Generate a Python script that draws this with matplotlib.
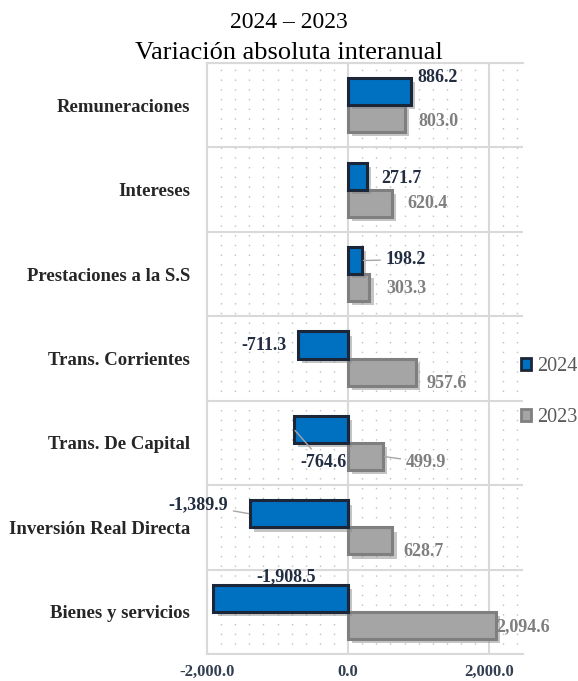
import numpy as np
import matplotlib
matplotlib.use("Agg")
import matplotlib.pyplot as plt
import matplotlib.patheffects as pe
from matplotlib.patches import Patch

plt.rcParams['font.family'] = ['Liberation Serif', 'DejaVu Serif']

# data
categories = ['Remuneraciones', 'Intereses', 'Prestaciones a la S.S',
              'Trans. Corrientes', 'Trans. De Capital',
              'Inversión Real Directa', 'Bienes y servicios']
v2024 = [886.2, 271.7, 198.2, -711.3, -764.6, -1389.9, -1908.5]
v2023 = [803.0, 620.4, 303.3, 957.6, 499.9, 628.7, 2094.6]
xticks = [-2000, 0, 2000]

# label offsets from the bar end (pixels) and whether a leader line is drawn
off_2024 = [(27, 14), (34, -2), (44, 1), (-34, -1), (29, -33), (-52, 9), (73, 22)]
lead_2024 = [False, False, True, False, True, True, False]
off_2023 = [(34, -3), (36, 0), (37, -1), (31, -11), (43, -6), (31, -11), (27, -1)]
lead_2023 = [False, False, False, False, True, False, False]

blue, blue_edge = '#0070C0', '#1B2638'
gray, gray_edge = '#A5A5A5', '#7F7F7F'
lab_dark, lab_gray = '#222D42', '#7F7F7F'

fig = plt.figure(figsize=(5.78, 6.81), dpi=100)
ax = fig.add_axes([207/578, 27/681, (523-207)/578, (654-63)/681])

y = np.arange(len(categories))
h = 0.32
shadow = [pe.SimplePatchShadow(offset=(3, -3), shadow_rgbFace='#808080', alpha=0.45), pe.Normal()]

b1 = ax.barh(y - h/2, v2024, height=h, color=blue, edgecolor=blue_edge, linewidth=2.2, zorder=3)
b2 = ax.barh(y + h/2, v2023, height=h, color=gray, edgecolor=gray_edge, linewidth=2.2, zorder=2)
for b in list(b1) + list(b2):
    b.set_path_effects(shadow)

for i in range(len(categories)):
    ap = dict(arrowstyle='-', color='#A6A6A6', lw=1, shrinkA=2, shrinkB=1) if lead_2024[i] else None
    ax.annotate(f'{v2024[i]:,.1f}', xy=(v2024[i], y[i] - h/2), xytext=off_2024[i],
                textcoords='offset pixels', ha='center', va='center',
                fontsize=13, fontweight='bold', color=lab_dark, arrowprops=ap, zorder=5)
    ap = dict(arrowstyle='-', color='#A6A6A6', lw=1, shrinkA=2, shrinkB=1) if lead_2023[i] else None
    ax.annotate(f'{v2023[i]:,.1f}', xy=(v2023[i], y[i] + h/2), xytext=off_2023[i],
                textcoords='offset pixels', ha='center', va='center',
                fontsize=13, fontweight='bold', color=lab_gray, arrowprops=ap, zorder=5)

ax.set_xlim(-2000, 2480)
ax.set_ylim(len(categories) - 0.5, -0.5)
ax.set_xticks(xticks)
ax.set_xticklabels([f'{t:,.1f}' for t in xticks], fontsize=12, fontweight='bold', color='#333F50')
ax.set_xticks(np.arange(-2000, 2500, 200), minor=True)
ax.set_yticks(y)
ax.set_yticklabels(categories, fontsize=13.5, fontweight='bold', color='#262626')
ax.set_yticks(np.arange(-0.5, len(categories), 1), minor=True)
ax.tick_params(which='both', length=0)
ax.tick_params(axis='y', pad=12)
ax.tick_params(axis='x', pad=7)

ax.set_axisbelow(True)
ax.grid(which='major', axis='x', color='#D9D9D9', lw=1.5)
ax.grid(which='minor', axis='y', color='#D9D9D9', lw=1.5)
ax.grid(which='minor', axis='x', color='#BFBFBF', lw=1, linestyle=(0, (1, 6)))
for s in ['top', 'bottom', 'left']:
    ax.spines[s].set_color('#D9D9D9')
    ax.spines[s].set_linewidth(1.5)
ax.spines['right'].set_visible(False)

fig.text(0.5, 1 - 22/681, '2024 – 2023', ha='center', va='center', fontsize=17)
fig.text(0.5, 1 - 53/681, 'Variación absoluta interanual', ha='center', va='center', fontsize=19)

handles = [Patch(facecolor=blue, edgecolor=blue_edge, linewidth=2),
           Patch(facecolor=gray, edgecolor=gray_edge, linewidth=2)]
fig.legend(handles, ['2024', '2023'], loc='upper left', bbox_to_anchor=(521/578, 1 - 357/681),
           frameon=False, fontsize=14.5, handlelength=0.5, handleheight=0.5, handletextpad=0.3,
           labelspacing=1.6, borderpad=0, borderaxespad=0, labelcolor='#595959')

fig.savefig('out.png', dpi=100)
